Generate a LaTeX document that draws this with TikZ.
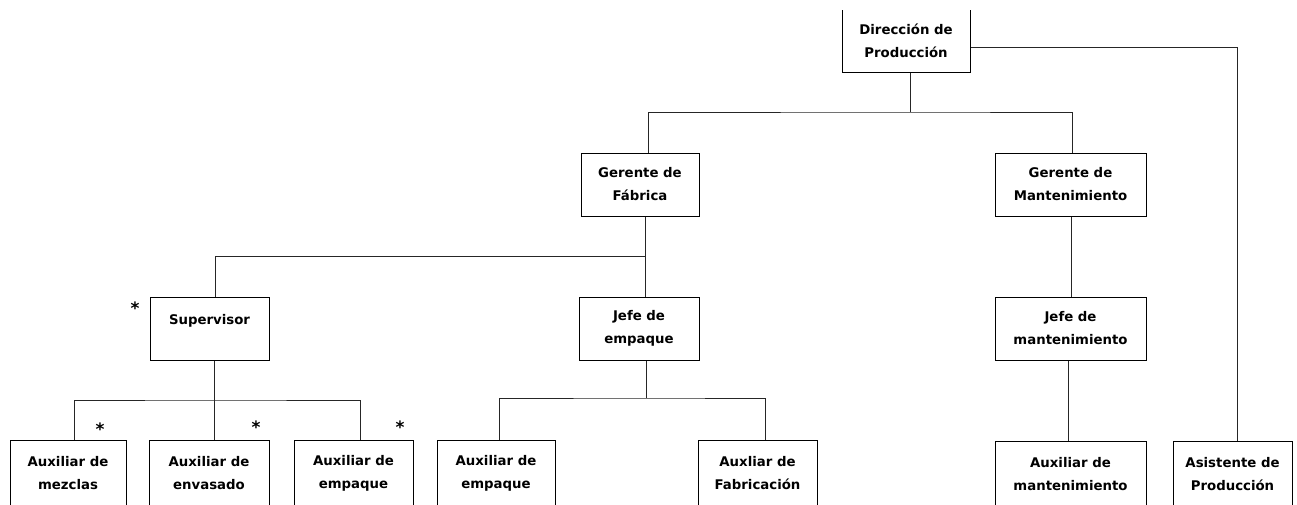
\documentclass[tikz,border=0pt]{standalone}
\usepackage{fontspec}
\setmainfont{DejaVu Sans}
\begin{document}
\begin{tikzpicture}[x=1pt,y=-1pt,
  box/.style={draw=black,line width=1pt,rectangle,inner sep=0pt,align=center,
    font=\bfseries\fontsize{13.3}{23}\selectfont,minimum height=63pt},
  conn/.style={draw=black!85,line width=1pt},
  star/.style={inner sep=0pt,font=\bfseries\fontsize{17}{18}\selectfont}]
\useasboundingbox (0,0) rectangle (1297,504);
\begin{scope}
\clip (0,10) rectangle (1297,504);
% boxes
\node[box,minimum width=128pt] (dir) at (906,40.5) {Dirección de\\Producción};
\node[box,minimum width=118pt] (gf) at (640,184.5) {Gerente de\\Fábrica};
\node[box,minimum width=151pt] (gm) at (1070.5,184.5) {Gerente de\\Mantenimiento};
\node[box,minimum width=119pt,text height=8pt,text depth=17pt] (sup) at (209.5,328.5) {Supervisor};
\node[box,minimum width=120pt] (je) at (639,328.5) {Jefe de\\empaque};
\node[box,minimum width=151pt] (jm) at (1070.5,328.5) {Jefe de\\mantenimiento};
\node[box,minimum width=116pt,minimum height=66pt] (am) at (68,473) {Auxiliar de\\mezclas};
\node[box,minimum width=120pt,minimum height=66pt] (aen) at (209,473) {Auxiliar de\\envasado};
\node[box,minimum width=119pt,minimum height=66pt] (aem) at (353.5,473) {Auxiliar de\\empaque};
\node[box,minimum width=118pt,minimum height=66pt] (aemb) at (496,473) {Auxiliar de\\empaque};
\node[box,minimum width=119pt,minimum height=66pt] (afab) at (757.5,473) {Auxliar de\\Fabricación};
\node[box,minimum width=151pt,minimum height=66pt] (amt) at (1070.5,474) {Auxiliar de\\mantenimiento};
\node[box,minimum width=119pt,minimum height=66pt] (asis) at (1232.5,474) {Asistente de\\Producción};
% bus coordinates
\coordinate (b1) at (910,112);
\coordinate (b2) at (645,256);
\coordinate (b3) at (646,398);
\coordinate (b4) at (214,400);
% connectors
\draw[conn] ([xshift=4pt]dir.south) -- (b1);
\draw[conn] ([xshift=8pt]gf.north) |- (b1) -| ([xshift=1.5pt]gm.north);
\draw[conn] ([yshift=-6.5pt]dir.east) -| ([xshift=4.5pt]asis.north);
\draw[conn] ([xshift=5pt]gf.south) -- ([xshift=6pt]je.north);
\draw[conn] (b2) -| ([xshift=5.5pt]sup.north);
\draw[conn] ([xshift=7pt]je.south) -- (b3);
\draw[conn] ([xshift=3pt]aemb.north) |- (b3) -| ([xshift=7.5pt]afab.north);
\draw[conn] ([xshift=4.5pt]sup.south) -- ([xshift=5pt]aen.north);
\draw[conn] ([xshift=6pt]am.north) |- (b4) -| ([xshift=6.5pt]aem.north);
\draw[conn] ([xshift=0.5pt]gm.south) -- ([xshift=0.5pt]jm.north);
\draw[conn] ([xshift=-2.5pt]jm.south) -- ([xshift=-2.5pt]amt.north);
% stars
\node[star] (s1) at (135,308) {*};
\node[star] (s2) at (100,429) {*};
\node[star] (s3) at (256,427) {*};
\node[star] (s4) at (400,427) {*};
\end{scope}
\end{tikzpicture}
\end{document}
